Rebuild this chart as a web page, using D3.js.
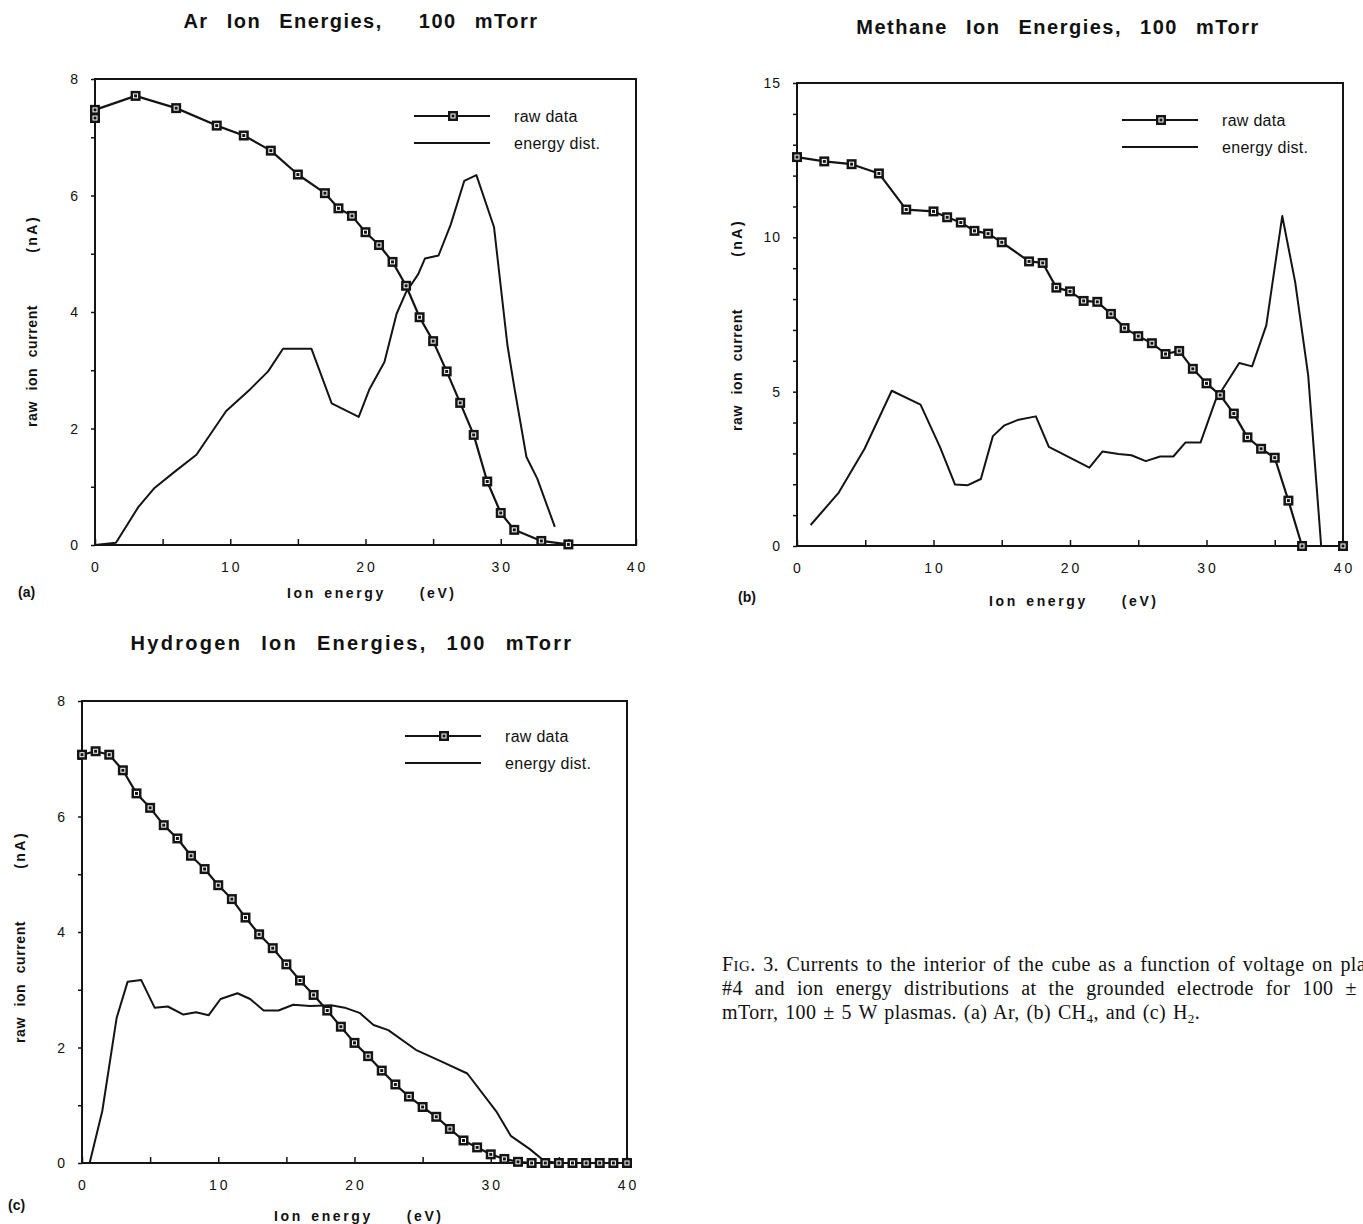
<!DOCTYPE html>
<html>
<head>
<meta charset="utf-8">
<script src="https://cdn.jsdelivr.net/npm/d3@7"></script>
<style>
  body { margin: 0; background: #fff; }
  svg { display: block; }
  .title { font-family: "Liberation Sans", Arial, sans-serif; font-weight: bold; font-size: 20px; word-spacing: 11px; fill: #111; white-space: pre; }
  .axlabel { font-family: "Liberation Sans", Arial, sans-serif; font-weight: bold; font-size: 14px; fill: #111; white-space: pre; }
  .tick-lbl { font-family: "Liberation Sans", Arial, sans-serif; font-size: 14px; fill: #111; }
  .legend { font-family: "Liberation Sans", Arial, sans-serif; font-size: 16px; letter-spacing: 0.3px; fill: #111; }
  .caption { font-family: "Liberation Serif", "Times New Roman", serif; font-size: 20px; letter-spacing: 0.4px; fill: #111; white-space: pre; }
</style>
</head>
<body>
<div id="chart"></div>
<script>
// Panel (a) argon, 100 mTorr: [ion energy eV, current nA]
const arRaw = [[0,7.33],[0,7.47],[3,7.71],[6,7.50],[9,7.20],[11,7.03],[13,6.77],[15,6.36],[17,6.04],
  [18,5.78],[19,5.65],[20,5.37],[21,5.15],[22,4.86],[23,4.45],[24,3.91],[25,3.50],[26,2.98],
  [27,2.44],[28,1.89],[29,1.09],[30,0.55],[31,0.26],[33,0.07],[35,0.01]];
const arDist = [[0,0],[1.55,0.04],[3.2,0.65],[4.4,0.98],[5.9,1.26],[7.5,1.55],[9.7,2.3],[11.5,2.68],
  [12.8,2.98],[13.9,3.37],[16,3.37],[17.5,2.43],[19.5,2.2],[20.3,2.68],[21.4,3.14],[22.3,3.97],
  [23,4.34],[23.9,4.65],[24.4,4.92],[25.4,4.97],[26.3,5.5],[27.3,6.25],[28.2,6.35],[29.5,5.46],
  [30.5,3.42],[31,2.71],[31.9,1.51],[32.7,1.14],[34,0.31]];

// Panel (b) methane
const chRaw = [[0,12.6],[2,12.46],[4,12.37],[6,12.07],[8,10.9],[10,10.84],[11,10.65],[12,10.48],
  [13,10.21],[14,10.12],[15,9.84],[17,9.22],[18,9.17],[19,8.37],[20,8.25],[21,7.94],[22,7.91],
  [23,7.52],[24,7.06],[25,6.8],[26,6.57],[27,6.22],[28,6.32],[29,5.74],[30,5.27],[31,4.89],
  [32,4.29],[33,3.52],[34,3.15],[35,2.86],[36,1.47],[37,0],[40,0]];
const chDist = [[1,0.68],[3.06,1.73],[4.95,3.15],[6.94,5.03],[9.05,4.58],[10.47,3.21],[11.58,1.99],
  [12.52,1.97],[13.47,2.17],[14.35,3.56],[15.2,3.91],[16.15,4.08],[17.5,4.2],[18.45,3.21],
  [21.42,2.54],[22.37,3.06],[23.56,2.98],[24.5,2.94],[25.55,2.75],[26.6,2.9],[27.57,2.9],
  [28.45,3.35],[29.56,3.35],[30.66,4.72],[32.4,5.93],[33.34,5.82],[34.38,7.15],[35.55,10.69],
  [36.5,8.54],[37.45,5.53],[38.4,0]];

// Panel (c) hydrogen
const h2Raw = [[0,7.07],[1,7.13],[2,7.07],[3,6.8],[4,6.4],[5,6.15],[6,5.85],[7,5.62],[8,5.32],
  [9,5.09],[10,4.81],[11,4.57],[12,4.25],[13,3.96],[14,3.72],[15,3.44],[16,3.16],[17,2.91],
  [18,2.64],[19,2.36],[20,2.08],[21,1.85],[22,1.6],[23,1.36],[24,1.15],[25,0.97],[26,0.8],
  [27,0.59],[28,0.39],[29,0.27],[30,0.15],[31,0.07],[32,0.02],[33,0],[34,0],[35,0],[36,0],
  [37,0],[38,0],[39,0],[40,0]];
const h2Dist = [[0,0],[0.56,0],[1.49,0.9],[2.54,2.51],[3.35,3.14],[4.34,3.17],[5.33,2.69],[6.3,2.71],
  [7.44,2.57],[8.37,2.61],[9.3,2.56],[10.17,2.84],[11.41,2.94],[12.34,2.84],[13.33,2.64],
  [14.42,2.64],[15.5,2.74],[16.74,2.72],[18.29,2.73],[19.28,2.69],[20.37,2.6],[21.4,2.39],
  [22.48,2.3],[24.5,1.96],[26.36,1.76],[28.28,1.55],[30.39,0.9],[31.47,0.47],[32.87,0.24],
  [33.95,0.03],[35.04,0],[40,0]];

const xTicks = [0, 10, 20, 30, 40];
const legendLabels = ["raw data", "energy dist."];
const captionLines = [
  "3. Currents to the interior of the cube as a function of voltage on plate",
  "#4 and ion energy distributions at the grounded electrode for 100 ± 5",
  "mTorr, 100 ± 5 W plasmas. (a) Ar, (b) CH",
];

const W = 1363, H = 1224;
const svg = d3.select("#chart").append("svg").attr("width", W).attr("height", H);
const ink = "#141414";

// one panel: frame box, ticks, two series, legend, labels
function drawPanel(p) {
  const x = d3.scaleLinear().domain([0, 40]).range([p.left, p.right]);
  const y = d3.scaleLinear().domain([0, p.ymax]).range([p.bottom, p.top]);
  const g = svg.append("g");

  g.append("text").attr("class", "title").attr("letter-spacing", p.titleLs + "px")
    .attr("x", p.titleX).attr("y", p.titleY).attr("text-anchor", "middle").text(p.title);

  // frame
  g.append("rect").attr("x", p.left).attr("y", p.top)
    .attr("width", p.right - p.left).attr("height", p.bottom - p.top)
    .attr("fill", "none").attr("stroke", ink).attr("stroke-width", 2);

  // x axis: ticks inward, every 5
  const xa = d3.axisBottom(x).tickValues(d3.range(0, 41, 5)).tickSize(-6).tickFormat("");
  g.append("g").attr("transform", `translate(0,${p.bottom})`).call(xa)
    .call(s => s.select(".domain").remove())
    .selectAll("line").attr("stroke", ink).attr("stroke-width", 1.5);
  g.selectAll(null).data(xTicks).join("text").attr("class", "tick-lbl")
    .attr("letter-spacing", "3px")
    .attr("x", d => x(d) + 1.5).attr("y", p.bottom + 27).attr("text-anchor", "middle").text(d => d);

  // y axis: small outward ticks incl. minor
  const ya = d3.axisLeft(y).tickValues(d3.range(0, p.ymax + 0.001, p.minor)).tickSize(4).tickFormat("");
  g.append("g").attr("transform", `translate(${p.left},0)`).call(ya)
    .call(s => s.select(".domain").remove())
    .selectAll("line").attr("stroke", ink).attr("stroke-width", 1.5);
  g.selectAll(null).data(p.yTicks).join("text").attr("class", "tick-lbl")
    .attr("x", p.left - 16).attr("y", d => y(d) + 5).attr("text-anchor", "end")
    .attr("letter-spacing", "1px").text(d => d);

  const line = d3.line().x(d => x(d[0])).y(d => y(d[1]));

  g.append("path").datum(p.dist).attr("d", line)
    .attr("fill", "none").attr("stroke", ink).attr("stroke-width", 2).attr("stroke-linejoin", "round");
  g.append("path").datum(p.raw).attr("d", line)
    .attr("fill", "none").attr("stroke", ink).attr("stroke-width", 2.2).attr("stroke-linejoin", "round");

  const marker = (sel) => {
    sel.append("rect").attr("x", -5).attr("y", -5).attr("width", 10).attr("height", 10).attr("fill", ink);
    sel.append("rect").attr("x", -2).attr("y", -2).attr("width", 4).attr("height", 4)
      .attr("fill", "none").attr("stroke", "#fff").attr("stroke-width", 1);
  };
  g.selectAll(null).data(p.raw).join("g")
    .attr("transform", d => `translate(${x(d[0])},${y(d[1])})`).call(marker);

  // legend
  const lg = g.append("g").attr("transform", `translate(${p.legX},${p.legY})`);
  lg.append("line").attr("x1", 0).attr("x2", 76).attr("y1", 0).attr("y2", 0)
    .attr("stroke", ink).attr("stroke-width", 2.2);
  lg.append("g").attr("transform", "translate(39,0)").call(marker);
  lg.append("line").attr("x1", 0).attr("x2", 76).attr("y1", 27).attr("y2", 27)
    .attr("stroke", ink).attr("stroke-width", 2);
  lg.selectAll(null).data(legendLabels).join("text").attr("class", "legend")
    .attr("x", 100).attr("y", (d, i) => i * 27 + 6).text(d => d);

  // axis titles
  const yl = g.append("text").attr("class", "axlabel")
    .attr("transform", `translate(${p.ylabX},${p.ylabY}) rotate(-90)`)
    .attr("letter-spacing", "0.6px").attr("word-spacing", "6px");
  yl.append("tspan").text("raw ion current");
  yl.append("tspan").attr("dx", 52).attr("letter-spacing", "2.5px").text("(nA)");
  g.append("text").attr("class", "axlabel").attr("letter-spacing", "2.6px").attr("word-spacing", "2px")
    .attr("x", p.xlabX).attr("y", p.xlabY).text("Ion energy    (eV)");
  g.append("text").attr("class", "axlabel").attr("x", p.tagX).attr("y", p.tagY).text(p.tag);
}

drawPanel({ title: "Ar Ion Energies,  100 mTorr", titleX: 361, titleY: 28, titleLs: 1.5,
  left: 95, right: 636, top: 79, bottom: 545, ymax: 8, minor: 1, yTicks: [0, 2, 4, 6, 8],
  raw: arRaw, dist: arDist, legX: 414, legY: 116,
  ylabX: 37, ylabY: 427, xlabX: 287, xlabY: 598, tag: "(a)", tagX: 18, tagY: 597 });

drawPanel({ title: "Methane Ion Energies, 100 mTorr", titleX: 1058, titleY: 34, titleLs: 1.5,
  left: 797, right: 1343, top: 83, bottom: 546, ymax: 15, minor: 1, yTicks: [0, 5, 10, 15],
  raw: chRaw, dist: chDist, legX: 1122, legY: 120,
  ylabX: 742, ylabY: 431, xlabX: 989, xlabY: 606, tag: "(b)", tagX: 738, tagY: 602 });

drawPanel({ title: "Hydrogen Ion Energies, 100 mTorr", titleX: 352, titleY: 650, titleLs: 2.3,
  left: 82, right: 627, top: 701, bottom: 1163, ymax: 8, minor: 1, yTicks: [0, 2, 4, 6, 8],
  raw: h2Raw, dist: h2Dist, legX: 405, legY: 736,
  ylabX: 25, ylabY: 1043, xlabX: 274, xlabY: 1221, tag: "(c)", tagX: 8, tagY: 1210 });

// caption (runs off the right edge as in the original page scan)
const cap = svg.append("g").attr("class", "caption");
const l1 = cap.append("text").attr("x", 722).attr("y", 971).attr("word-spacing", "2.2px");
l1.append("tspan").text("F");
l1.append("tspan").attr("font-size", "15px").text("IG");
l1.append("tspan").text(". " + captionLines[0]);
cap.append("text").attr("x", 722).attr("y", 995).attr("word-spacing", "6.6px").text(captionLines[1]);
const l3 = cap.append("text").attr("x", 722).attr("y", 1019).attr("word-spacing", "1.5px").text(captionLines[2]);
l3.append("tspan").attr("font-size", "13px").attr("dy", 4).text("4");
l3.append("tspan").attr("dy", -4).text(", and (c) H");
l3.append("tspan").attr("font-size", "13px").attr("dy", 4).text("2");
l3.append("tspan").attr("dy", -4).text(".");
</script>
</body>
</html>
